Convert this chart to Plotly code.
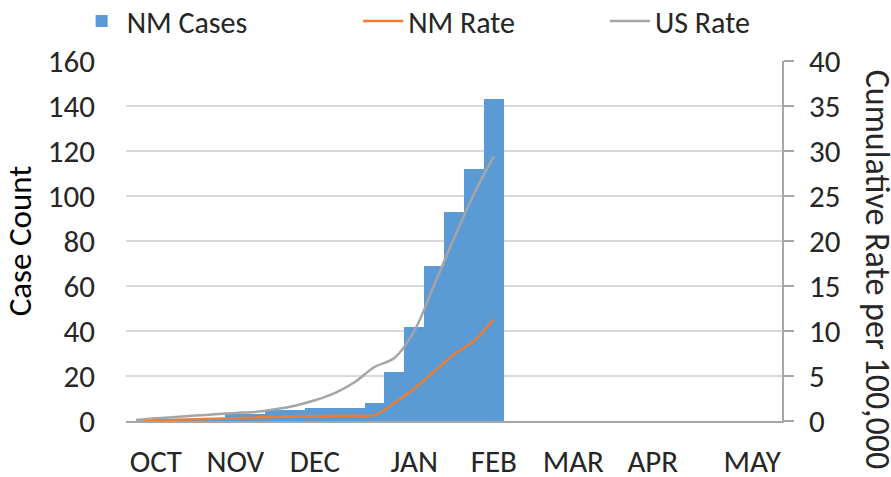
import plotly.graph_objects as go

# weekly index, Oct -> May (33 weeks)
weeks = list(range(33))
month_ticks = [1, 5, 9, 14, 18, 22, 26, 31]
month_labels = ["OCT", "NOV", "DEC", "JAN", "FEB", "MAR", "APR", "MAY"]

# cumulative NM cases (reported weeks only)
nm_cases = [0, 0, 1, 1, 1, 3, 3, 5, 5, 6, 6, 6, 8, 22, 42, 69, 93, 112, 143]

# cumulative rate per 100,000
nm_rate = [0.05, 0.1, 0.15, 0.2, 0.25, 0.3, 0.4, 0.45, 0.5, 0.55, 0.58, 0.6,
           0.65, 2.0, 3.6, 5.5, 7.4, 8.9, 11.3]
us_rate = [0.1, 0.3, 0.45, 0.6, 0.75, 0.9, 1.0, 1.3, 1.7, 2.3, 3.1, 4.3,
           6.0, 7.0, 10.0, 15.1, 20.3, 25.2, 29.4]

FONT = "Carlito, 'Lato Light', Lato, sans-serif"
FONT_REG = "Carlito, Lato, sans-serif"
TXT = "#262626"

fig = go.Figure()

fig.add_trace(go.Bar(
    x=weeks[:len(nm_cases)], y=nm_cases,
    name="NM Cases", legend="legend",
    marker=dict(color="#5B9BD5", line=dict(width=0))))

fig.add_trace(go.Scatter(
    x=weeks[:len(nm_rate)], y=nm_rate,
    name="NM Rate", mode="lines", yaxis="y2", legend="legend2",
    line=dict(color="#ED7D31", width=2.5, shape="spline")))

fig.add_trace(go.Scatter(
    x=weeks[:len(us_rate)], y=us_rate,
    name="US Rate", mode="lines", yaxis="y2", legend="legend3",
    line=dict(color="#A5A5A5", width=2.5, shape="spline")))

# one legend box per entry so each can sit where the original has it
leg = dict(orientation="h", xref="container", yref="container",
           xanchor="left", y=0.956, yanchor="middle",
           font=dict(size=30), itemwidth=40, bgcolor="rgba(0,0,0,0)")

fig.update_layout(
    width=891, height=477,
    margin=dict(l=126, r=109, t=61, b=56, autoexpand=False),
    paper_bgcolor="white", plot_bgcolor="white",
    font=dict(family=FONT, size=31, color=TXT),
    bargap=0,
    showlegend=True,
    legend=dict(leg, x=0.086),
    legend2=dict(leg, x=0.402),
    legend3=dict(leg, x=0.679),
    xaxis=dict(range=[-0.5, 32.5], tickvals=month_ticks, ticktext=month_labels,
               showgrid=False, zeroline=False, showline=True,
               linecolor="#A6A6A6", linewidth=1.5, ticks="",
               ticklabelstandoff=12),
    yaxis=dict(range=[0, 160], dtick=20, showgrid=True, gridcolor="#D9D9D9",
               gridwidth=1.5, zeroline=False, showline=False, ticks="",
               ticklabelstandoff=30,
               title=dict(text="Case Count",
                          font=dict(family=FONT_REG, size=33, color="black"),
                          standoff=10)),
    yaxis2=dict(range=[0, 40], dtick=5, overlaying="y", side="right",
                showgrid=False, zeroline=False, showline=True,
                linecolor="#A6A6A6", linewidth=1.5, ticks="outside",
                ticklen=10, tickcolor="#A6A6A6", tickwidth=1.5,
                ticklabelstandoff=9),
)

fig.add_annotation(
    text="Cumulative Rate per 100,000", textangle=90,
    xref="paper", yref="paper", x=1.145, y=0.42,
    xanchor="center", yanchor="middle",
    showarrow=False, font=dict(size=34, color=TXT))

# drop the page's default body margin so the figure sits at the window corner
fig.write_html("out.html", config={"displayModeBar": False},
               post_script="document.body.style.margin='0';")
